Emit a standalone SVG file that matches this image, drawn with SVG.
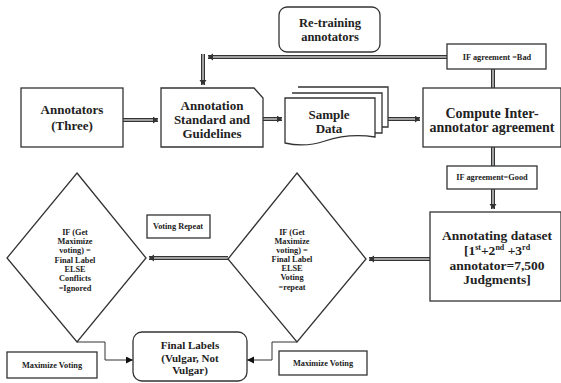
<svg xmlns="http://www.w3.org/2000/svg" width="561" height="383" viewBox="0 0 561 383">
<defs>
<style>
.box{fill:#fff;stroke:#333;stroke-width:1.3}
.t{font-family:"Liberation Serif","Times New Roman",serif;font-weight:bold;fill:#222;text-anchor:middle}
.big{font-size:13px}
.xl{font-size:14px}
.ad{font-size:13.5px}
.sm{font-size:8.3px}
.md{font-size:11px}
.dlo{fill:none;stroke:#333;stroke-width:4}
.dli{fill:none;stroke:#a0a0a0;stroke-width:2}
.thin{fill:none;stroke:#333;stroke-width:1}
</style>
<marker id="ah" markerUnits="userSpaceOnUse" markerWidth="8" markerHeight="8" refX="5" refY="3.5" orient="auto">
<path d="M0,0 L5,3.5 L0,7 Z" fill="#333"/>
</marker>
<marker id="ta" markerUnits="userSpaceOnUse" markerWidth="9" markerHeight="8" refX="7" refY="3.5" orient="auto">
<path d="M0,0 L7,3.5 L0,7 Z" fill="#111"/>
</marker>
</defs>

<g id="connectors">
<path class="dlo" d="M123,120 H158"/><path class="dli" d="M123,120 H158" marker-end="url(#ah)"/>
<path class="dlo" d="M263,119 H282"/><path class="dli" d="M263,119 H282" marker-end="url(#ah)"/>
<path class="dlo" d="M388,119 H420"/><path class="dli" d="M388,119 H420" marker-end="url(#ah)"/>
<path class="dlo" d="M447,57 H208"/><path class="dli" d="M447,57 H208" marker-end="url(#ah)"/>
<path class="dlo" d="M203,54 V85"/><path class="dli" d="M203,54 V85" marker-end="url(#ah)"/>
<path class="dlo" d="M493,69 V88"/><path class="dli" d="M493,69 V88"/>
<path class="dlo" d="M493,147 V166"/><path class="dli" d="M493,147 V166"/>
<path class="dlo" d="M493,189 V209"/><path class="dli" d="M493,189 V209" marker-end="url(#ah)"/>
<path class="dlo" d="M430,259 H369"/><path class="dli" d="M430,259 H369" marker-end="url(#ah)"/>
<path class="dlo" d="M228,258 H149"/><path class="dli" d="M228,258 H149" marker-end="url(#ah)"/>
<path class="thin" d="M77,342 H105 V360 H133" marker-end="url(#ta)"/>
<path class="thin" d="M297,342 H272 V360 H247" marker-end="url(#ta)"/>
</g>

<g id="annotators">
<rect class="box" x="21" y="88" width="102" height="59"/>
<text class="t big" x="72" y="114">Annotators</text>
<text class="t big" x="72" y="130">(Three)</text>
</g>

<g id="standard">
<path class="box" d="M161,88 H254 L263,98 V147 H161 Z"/>
<text class="t big" x="212" y="110">Annotation</text>
<text class="t big" x="212" y="124">Standard and</text>
<text class="t big" x="212" y="138">Guidelines</text>
</g>

<g id="retraining">
<rect class="box" x="279" y="7" width="101" height="45" rx="8"/>
<text class="t" font-size="12.5" x="330" y="26.5">Re-training</text>
<text class="t" font-size="12.5" x="330" y="40.5">annotators</text>
</g>

<g id="sample-data">
<path class="box" d="M298,87 H388 V127 H382"/>
<path class="box" d="M292,93 H382 V133 H375"/>
<path class="box" d="M285,98 H375 V137 C355,134 340,136 325,141 C310,146 298,146 285,143 Z"/>
<text class="t big" x="329" y="119">Sample</text>
<text class="t big" x="329" y="133">Data</text>
</g>

<g id="bad">
<rect class="box" x="447" y="44" width="99" height="25"/>
<text class="t sm" x="497" y="60">IF agreement =Bad</text>
</g>

<g id="compute">
<rect class="box" x="423" y="88" width="138" height="59"/>
<text class="t xl" x="492" y="118">Compute Inter-</text>
<text class="t xl" x="492" y="132">annotator agreement</text>
</g>

<g id="good">
<rect class="box" x="447" y="166" width="90" height="23"/>
<text class="t sm" x="492" y="180">IF agreement=Good</text>
</g>

<g id="annotating">
<rect class="box" x="430" y="212" width="131" height="89"/>
<text class="t ad" x="497" y="240">Annotating dataset</text>
<text class="t ad" x="497" y="255">[1<tspan font-size="8" dy="-5">st</tspan><tspan dy="5">+2</tspan><tspan font-size="8" dy="-5">nd</tspan><tspan dy="5"> +3</tspan><tspan font-size="8" dy="-5">rd</tspan></text>
<text class="t ad" x="497" y="270">annotator=7,500</text>
<text class="t ad" x="497" y="284">Judgments]</text>
</g>

<g id="diamond-right">
<path class="box" d="M297,173 L366,259 L297,342 L228,259 Z"/>
<text class="t sm" x="292" y="235">IF (Get</text>
<text class="t sm" x="292" y="244">Maximize</text>
<text class="t sm" x="292" y="253">voting) =</text>
<text class="t sm" x="292" y="262">Final Label</text>
<text class="t sm" x="292" y="271">ELSE</text>
<text class="t sm" x="292" y="280">Voting</text>
<text class="t sm" x="292" y="290">=repeat</text>
</g>

<g id="diamond-left">
<path class="box" d="M77,173 L146,258 L77,342 L7,258 Z"/>
<text class="t sm" x="75" y="235">IF (Get</text>
<text class="t sm" x="75" y="244">Maximize</text>
<text class="t sm" x="75" y="253">voting) =</text>
<text class="t sm" x="75" y="263">Final Label</text>
<text class="t sm" x="75" y="272">ELSE</text>
<text class="t sm" x="75" y="281">Conflicts</text>
<text class="t sm" x="75" y="291">=Ignored</text>
</g>

<g id="voting-repeat">
<rect class="box" x="147" y="215" width="63" height="23"/>
<text class="t sm" x="178" y="229">Voting Repeat</text>
</g>

<g id="final-labels">
<rect class="box" x="133" y="332" width="114" height="49" rx="9"/>
<text class="t md" x="190" y="349">Final Labels</text>
<text class="t md" x="190" y="362">(Vulgar, Not</text>
<text class="t md" x="190" y="374">Vulgar)</text>
</g>

<g id="max-left">
<rect class="box" x="7" y="352" width="90" height="26"/>
<text class="t sm" x="52" y="368">Maximize Voting</text>
</g>

<g id="max-right">
<rect class="box" x="279" y="351" width="88" height="24"/>
<text class="t sm" x="323" y="366">Maximize Voting</text>
</g>
</svg>
